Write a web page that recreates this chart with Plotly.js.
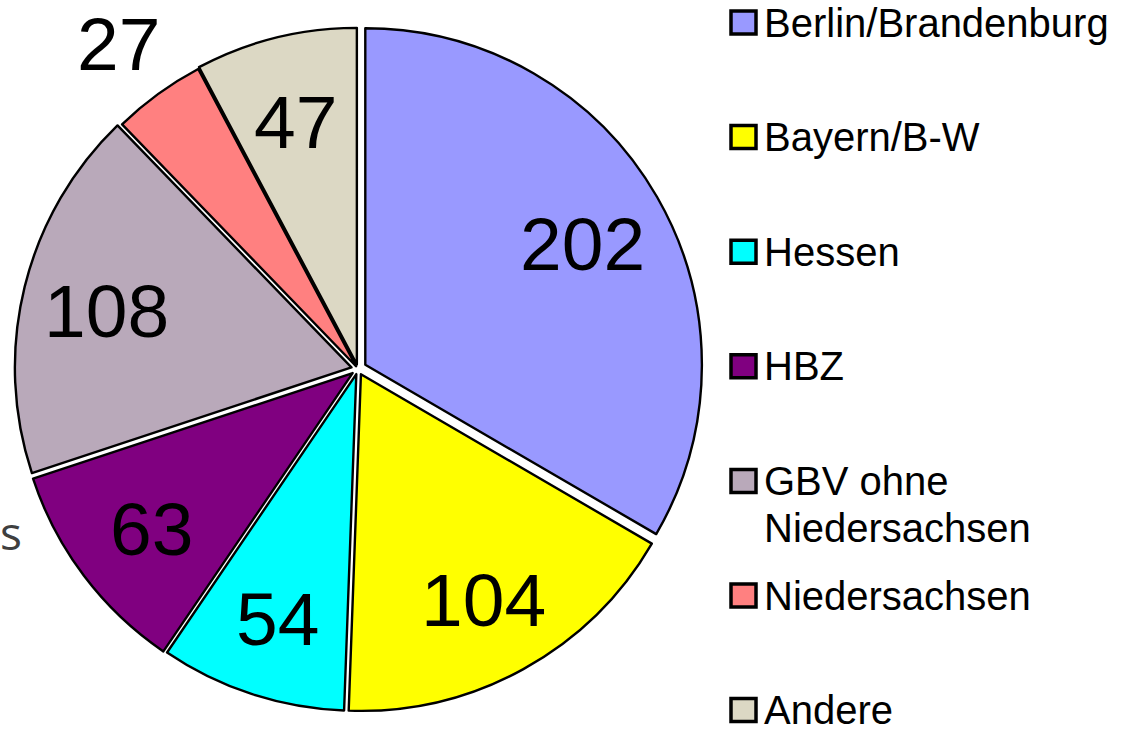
<!DOCTYPE html>
<html>
<head>
<meta charset="utf-8">
<script src="https://cdn.plot.ly/plotly-3.0.1.min.js"></script>
<style>html,body{margin:0;padding:0;background:#fff;}#chart{width:1136px;height:729px;}</style>
</head>
<body>
<div id="chart"></div>
<script>
// ---- data ----
const categories = ["Berlin/Brandenburg", "Bayern/B-W", "Hessen", "HBZ", "GBV ohne Niedersachsen", "Niedersachsen", "Andere"];
const legendLabels = ["Berlin/Brandenburg", "Bayern/B-W", "Hessen", "HBZ", "GBV ohne<br>Niedersachsen", "Niedersachsen", "Andere"];
const values = [202, 104, 54, 63, 108, 27, 47];
const colors = ["#9999FF", "#FFFF00", "#00FFFF", "#800080", "#B9A9BA", "#FF8080", "#DCD8C4"];
const pulls = [0.025, 0.018, 0.016, 0.02, 0.02, 0.01, 0.014];
const labelOutside = [false, false, false, false, false, true, false];

// ---- layout geometry ----
const W = 1136, H = 729;
const cx = 358, cy = 369, R0 = 345;
const maxPull = Math.max(...pulls);
const R = R0 / (1 + maxPull);
const FONT = "Liberation Sans, Arial, sans-serif";

const trace = {
  type: "pie",
  labels: categories,
  values: values,
  sort: false,
  direction: "clockwise",
  rotation: 0,
  pull: pulls,
  textinfo: "none",
  hoverinfo: "label+value",
  marker: {colors: colors, line: {color: "#000000", width: 2.4}},
  domain: {x: [(cx - R0) / W, (cx + R0) / W], y: [1 - (cy + R0) / H, 1 - (cy - R0) / H]},
  showlegend: false
};

const total = values.reduce((a, b) => a + b, 0);
const annotations = [];
const shapes = [];
let cum = 0;
values.forEach((v, i) => {
  const mid = (cum + v / 2) / total * 2 * Math.PI;
  cum += v;
  const r = labelOutside[i] ? R * 1.21 : R * 0.77;
  const px = cx + r * Math.sin(mid);
  const py = cy - r * Math.cos(mid) + 4;
  annotations.push({
    xref: "paper", yref: "paper", x: px / W, y: 1 - py / H,
    xanchor: "center", yanchor: "middle", showarrow: false,
    text: String(v),
    font: {family: FONT, size: 75, color: "#000000"}
  });
});

// custom legend
const legTop = 22.5, legStep = 114.6, lineStep = 47;
categories.forEach((c, i) => {
  const yc = legTop + legStep * i;
  shapes.push({
    type: "rect", xref: "paper", yref: "paper",
    x0: 731 / W, x1: 756 / W, y0: 1 - (yc + 11.5) / H, y1: 1 - (yc - 11.5) / H,
    fillcolor: colors[i], line: {color: "#000000", width: 3.5}
  });
  legendLabels[i].split("<br>").forEach((line, k) => {
    annotations.push({
      xref: "paper", yref: "paper", x: 762 / W, y: 1 - (yc + k * lineStep) / H,
      xanchor: "left", yanchor: "middle", align: "left", showarrow: false,
      text: line,
      font: {family: FONT, size: 40, color: "#000000"}
    });
  });
});

// cut-off text fragment at left edge
annotations.push({
  xref: "paper", yref: "paper", x: -2 / W, y: 1 - 532 / H,
  xanchor: "left", yanchor: "middle", showarrow: false,
  text: "s",
  font: {family: "Open Sans, sans-serif", size: 46, color: "#3f3f3f"}
});

const layout = {
  width: W, height: H,
  margin: {l: 0, r: 0, t: 0, b: 0},
  paper_bgcolor: "#ffffff",
  showlegend: false,
  annotations: annotations,
  shapes: shapes
};

Plotly.newPlot("chart", [trace], layout, {displayModeBar: false, staticPlot: true});
</script>
</body>
</html>
